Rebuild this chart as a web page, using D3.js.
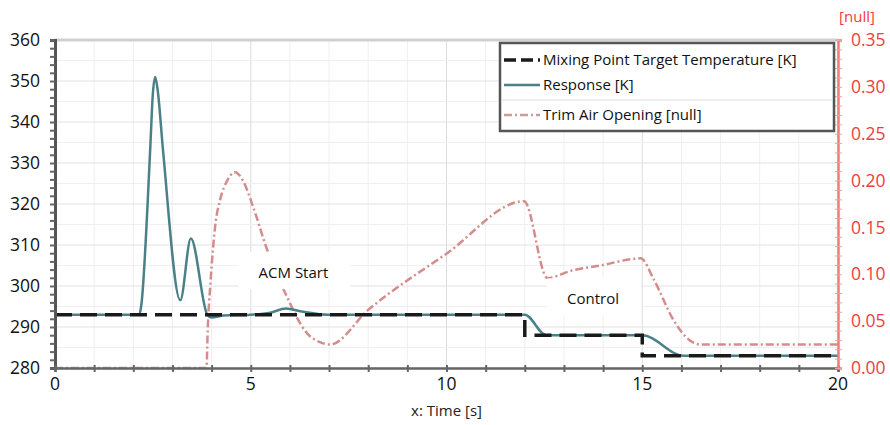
<!DOCTYPE html>
<html><head><meta charset="utf-8">
<script src="https://cdn.jsdelivr.net/npm/d3@7"></script>
<style>body{margin:0;background:#fff}svg{display:block;font-family:"Open Sans",sans-serif}</style>
</head><body><svg id="c" width="890" height="425"></svg>
<script>
// ---- data ----
const targetTime = [0, 12, 12, 15, 15, 20];
const targetTemp = [293, 293, 288, 288, 283, 283];

const responseTime = [0, 2.15, 2.2, 2.43, 2.5, 2.56, 2.62, 2.76, 3.2, 3.47, 3.89, 4.0, 4.3, 5.0, 5.5, 5.9, 6.3, 7.0, 12.0, 12.55, 15.0, 16.05, 20];
const responseTemp = [293, 293, 295, 333, 347, 351, 348, 333, 296.5, 311.6, 293, 292.3, 292.8, 293, 293.5, 294.5, 293.8, 293, 293, 288, 288, 283, 283];

const trimTime = [0, 3.87, 3.9, 3.97, 4.09, 4.22, 4.4, 4.6, 4.8, 5.06, 5.42, 5.88, 6.44, 6.8, 7.02, 8.0, 10.0, 11.98, 12.58, 13.2, 14.0, 14.7, 14.96, 15.3, 15.8, 16.2, 16.5, 20];
const trimOpen = [0, 0, 0.04, 0.09, 0.151, 0.18, 0.2, 0.209, 0.2, 0.172, 0.126, 0.08, 0.037, 0.027, 0.025, 0.062, 0.122, 0.178, 0.096, 0.104, 0.11, 0.116, 0.117, 0.094, 0.051, 0.03, 0.025, 0.025];

const xTicks = [0, 5, 10, 15, 20];
const yLeftTicks = [280, 290, 300, 310, 320, 330, 340, 350, 360];
const yRightTicks = [0, 0.05, 0.10, 0.15, 0.20, 0.25, 0.30, 0.35];
const seriesNames = ["Mixing Point Target Temperature [K]", "Response [K]", "Trim Air Opening [null]"];
const annotations = [{text: "ACM Start", t: 5.2, v: 303.2}, {text: "Control", t: 13.08, v: 296.8}];

// ---- layout ----
const svg = d3.select("#c");
const L = 55, R = 838, T = 40, B = 368;
const x = d3.scaleLinear().domain([0, 20]).range([L, R]);
const yL = d3.scaleLinear().domain([280, 360]).range([B, T]);
const yR = d3.scaleLinear().domain([0, 0.35]).range([B, T]);

// grid
const g = svg.append("g");
g.selectAll(".vmin").data(d3.range(0, 20.01, 1)).join("line")
  .attr("x1", d => x(d)).attr("x2", d => x(d)).attr("y1", T).attr("y2", B)
  .attr("stroke", d => d % 5 === 0 ? "#dcdcdc" : "#efefef").attr("stroke-width", 1);
g.selectAll(".hmin").data(d3.range(280, 360.01, 5)).join("line")
  .attr("y1", d => yL(d)).attr("y2", d => yL(d)).attr("x1", L).attr("x2", R)
  .attr("stroke", d => d % 10 === 0 ? "#e2e2e2" : "#f0f0f0").attr("stroke-width", 1);
// top border
svg.append("line").attr("x1", L).attr("x2", R).attr("y1", T).attr("y2", T).attr("stroke", "#d0d0d0").attr("stroke-width", 3);

// series
const tgtData = targetTime.map((t, i) => [t, targetTemp[i]]);
const respData = responseTime.map((t, i) => [t, responseTemp[i]]);
const trimData = trimTime.map((t, i) => [t, trimOpen[i]]);

svg.append("path").datum(trimData)
  .attr("d", d3.line().x(d => x(d[0])).y(d => yR(d[1])).curve(d3.curveMonotoneX))
  .attr("fill", "none").attr("stroke", "#d48c8c").attr("stroke-width", 2.5)
  .attr("stroke-dasharray", "8,3,2,3");
svg.append("path").datum(respData)
  .attr("d", d3.line().x(d => x(d[0])).y(d => yL(d[1])).curve(d3.curveMonotoneX))
  .attr("fill", "none").attr("stroke", "#4b8088").attr("stroke-width", 2.5);
svg.append("path").datum(tgtData)
  .attr("d", d3.line().x(d => x(d[0])).y(d => yL(d[1])))
  .attr("fill", "none").attr("stroke", "#1a1a1a").attr("stroke-width", 3.5)
  .attr("stroke-dasharray", "17,8");

// axes
const axL = svg.append("g").attr("transform", `translate(${L},0)`)
  .call(d3.axisLeft(yL).tickValues(d3.range(280, 360.01, 2)).tickSize(5).tickFormat(""));
axL.select(".domain").attr("stroke", "#555").attr("stroke-width", 3);
axL.selectAll(".tick line").attr("stroke", "#666").attr("stroke-width", 2);
svg.append("g").selectAll("text").data(yLeftTicks).join("text")
  .attr("x", 40).attr("y", d => yL(d)).attr("dy", "0.35em").attr("text-anchor", "end")
  .attr("font-size", 17.5).attr("fill", "#111").text(d => d);

const axB = svg.append("g").attr("transform", `translate(0,${B})`)
  .call(d3.axisBottom(x).tickValues(d3.range(0, 20.01, 1)).tickSize(4).tickFormat(""));
axB.select(".domain").attr("stroke", "#666").attr("stroke-width", 2.5);
axB.selectAll(".tick line").attr("stroke", "#666").attr("stroke-width", 2).attr("y1", -3);
svg.append("g").selectAll("text").data(xTicks).join("text")
  .attr("x", d => x(d)).attr("y", 384).attr("dy", "0.35em").attr("text-anchor", "middle")
  .attr("font-size", 17.5).attr("fill", "#111").text(d => d);
svg.append("text").attr("x", x(10)).attr("y", 411).attr("dy", "0.35em").attr("text-anchor", "middle")
  .attr("font-size", 15).attr("fill", "#222").text("x: Time [s]");

const axR = svg.append("g").attr("transform", `translate(${R},0)`)
  .call(d3.axisRight(yR).tickValues(d3.range(0, 0.3501, 0.01)).tickSize(4).tickFormat(""));
axR.select(".domain").attr("stroke", "#f07c7c").attr("stroke-width", 2.5);
axR.selectAll(".tick line").attr("stroke", "#f0a0a0").attr("stroke-width", 1).attr("x1", -3);
svg.append("g").selectAll("text").data(yRightTicks).join("text")
  .attr("x", 851).attr("y", d => yR(d)).attr("dy", "0.35em").attr("text-anchor", "start")
  .attr("font-size", 17.5).attr("fill", "#f03c3c").text(d => d.toFixed(2));
svg.append("text").attr("x", 857).attr("y", 17).attr("dy", "0.35em").attr("text-anchor", "middle")
  .attr("font-size", 15).attr("fill", "#f03c3c").text("[null]");

// annotations
annotations.forEach(a => {
  const t = svg.append("text").attr("x", x(a.t)).attr("y", yL(a.v)).attr("dy", "0.35em")
    .attr("font-size", 15).attr("fill", "#111").text(a.text);
  const bb = t.node().getBBox();
  svg.insert("rect", () => t.node()).attr("x", bb.x - 20).attr("y", bb.y - 10)
    .attr("width", bb.width + 42).attr("height", bb.height + 17).attr("fill", "#fff");
});

// legend
const lg = svg.append("g").attr("transform", "translate(500,43)");
lg.append("rect").attr("width", 334).attr("height", 88).attr("fill", "#fff")
  .attr("stroke", "#555").attr("stroke-width", 2.5);
const rowsY = [17, 42, 72];
lg.append("line").attr("x1", 2).attr("x2", 332).attr("y1", 57).attr("y2", 57).attr("stroke", "#ddd");
const sty = [
  {c: "#1a1a1a", w: 3.5, d: "12,5"},
  {c: "#4b8088", w: 2.5, d: null},
  {c: "#d09a9a", w: 2.5, d: "8,3,2,3"}
];
seriesNames.forEach((n, i) => {
  lg.append("line").attr("x1", 4).attr("x2", 40).attr("y1", rowsY[i]).attr("y2", rowsY[i])
    .attr("stroke", sty[i].c).attr("stroke-width", sty[i].w).attr("stroke-dasharray", sty[i].d);
  lg.append("text").attr("x", 43).attr("y", rowsY[i]).attr("dy", "0.35em")
    .attr("font-size", 15).attr("fill", "#111").text(n);
});
</script></body></html>
